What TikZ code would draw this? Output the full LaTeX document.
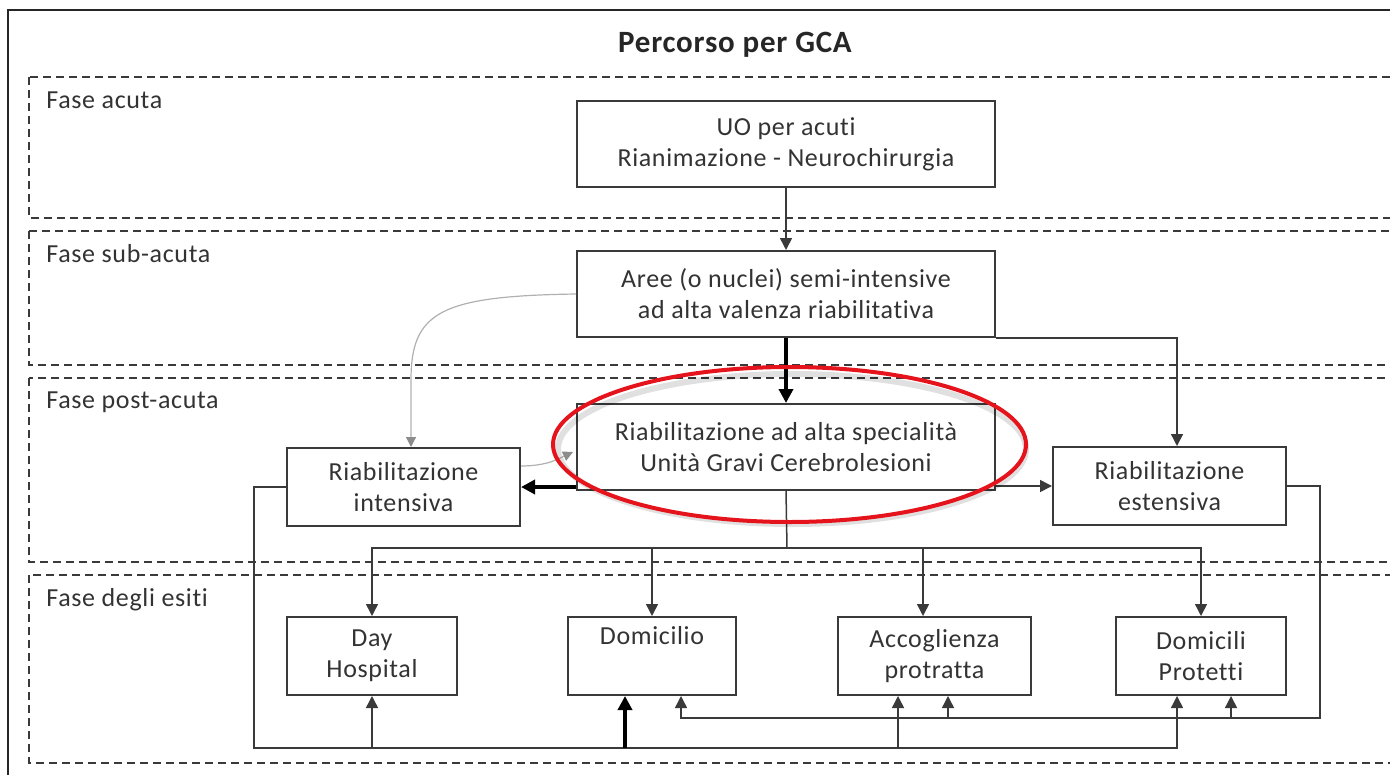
\documentclass[tikz,border=0pt]{standalone}
\usepackage{fontspec}
\setmainfont{Carlito}[Ligatures=NoCommon, LetterSpace=2.5]
\usetikzlibrary{arrows.meta, calc}
\definecolor{gcaInk}{HTML}{333333}
\definecolor{gcaLine}{HTML}{3A3A3A}
\definecolor{gcaSoft}{HTML}{B0B0B0}
\definecolor{gcaTip}{HTML}{8C8C8C}
\definecolor{gcaRing}{HTML}{E5131B}
\tikzset{
    % boxes of the pathway
    unitbox/.style={rectangle,draw=gcaLine,line width=1pt,fill=white,align=center,text=gcaInk,inner sep=0pt,font=\fontsize{13}{15.5}\selectfont},
    widebox/.style={unitbox,minimum width=209pt,minimum height=43pt},
    sidebox/.style={unitbox,minimum width=116.5pt,minimum height=39pt},
    exitbox/.style={unitbox,minimum width=85pt,minimum height=39pt},
    % phase bands
    phase/.style={draw=gcaLine,line width=0.7pt,dash pattern=on 4pt off 2.5pt},
    phaselabel/.style={anchor=west,text=gcaInk,inner sep=0pt,font=\fontsize{13}{15}\selectfont},
    % flow styles
    flow/.style={draw=gcaLine,line width=0.75pt,-{Triangle[length=6pt,width=6pt]}},
    mainflow/.style={draw=black,line width=2pt,-{Triangle[length=7pt,width=7pt]}},
    softflow/.style={draw=gcaSoft,line width=0.6pt,-{Triangle[length=5pt,width=5pt,color=gcaTip]}},
    ring/.style={draw=gcaRing,line width=2pt}
}

\begin{document}
\begin{tikzpicture}[x=0.5pt, y=-0.5pt]
    \useasboundingbox (0,0) rectangle (1390,775);
    \clip (0,0) rectangle (1390,775);

    % Outer frame and title
    \draw[draw=black!85, line width=1.25pt] (8,10) rectangle (1420,800);
    \node[font=\fontsize{15.5}{18}\selectfont\bfseries, text=black!85] (title) at (735,45) {Percorso per GCA};

    % Phase bands
    \draw[phase] (29,77) rectangle (1420,218);
    \draw[phase] (29,231) rectangle (1420,365);
    \draw[phase] (29,378) rectangle (1420,562);
    \draw[phase] (29,575) rectangle (1420,763);
    \node[phaselabel] (acuta) at (46,100) {Fase acuta};
    \node[phaselabel] (subacuta) at (46,254) {Fase sub-acuta};
    \node[phaselabel] (postacuta) at (46,402) {Fase post-acuta};
    \node[phaselabel] (esiti) at (46,600) {Fase degli esiti};

    % Main column
    \node[widebox] (uo) at (786,144) {UO per acuti\\Rianimazione - Neurochirurgia};
    \node[widebox] (aree) at (786,294) {Aree (o nuclei) semi-intensive\\ad alta valenza riabilitativa};
    \node[widebox] (alta) at (786,447) {Riabilitazione ad alta specialità\\Unità Gravi Cerebrolesioni};

    % Post-acute side boxes
    \node[sidebox] (intensiva) at (403.5,487) {Riabilitazione\\intensiva};
    \node[sidebox] (estensiva) at (1169.5,486) {Riabilitazione\\estensiva};

    % Outcome boxes
    \node[exitbox] (dayh) at (372,656) {Day\\Hospital};
    \node[exitbox, minimum width=84pt] (domic) at (652,656) {Domicilio\\\strut};
    \node[exitbox, minimum width=96.5pt] (accogl) at (934.5,656) {Accoglienza\\protratta};
    \node[exitbox] (protetti) at (1201,656) {Domicili\\Protetti};

    % Bus points and taps
    \coordinate (bus) at (787,548);
    \coordinate (lowbus) at (254,748);
    \coordinate (rightbus) at (1320,718);
    \coordinate (intTop) at ($(intensiva.north)+(7.5,0)$);
    \coordinate (estTop) at ($(estensiva.north)+(7.5,0)$);
    \coordinate (accTop) at ($(accogl.north)+(-11.5,0)$);
    \coordinate (domLow) at ($(domic.south)+(-27,0)$);
    \coordinate (domRight) at ($(domic.south)+(29,0)$);
    \coordinate (accLow) at ($(accogl.south)+(-36.5,0)$);
    \coordinate (accRight) at ($(accogl.south)+(13.5,0)$);
    \coordinate (protLow) at ($(protetti.south)+(-24,0)$);
    \coordinate (protRight) at ($(protetti.south)+(30,0)$);

    % Acute to post-acute flows
    \draw[flow] (uo) -- (aree);
    \draw[mainflow] (aree) -- (alta);
    \draw[flow] (aree.south east) -| (estTop);
    \draw[mainflow] (alta.west |- intensiva.east) -- (intensiva.east);
    \draw[flow] (alta.east |- estensiva.west) -- (estensiva.west);
    \draw[softflow] (aree.west) .. controls (440,296) and (411,312) .. (411,380) -- (intTop);
    \draw[softflow] ($(intensiva.east)+(0,-21)$) .. controls (548,466) and (560,458) .. ($(alta.west)+(-3,5)$);

    % Distribution to outcomes
    \draw[draw=gcaLine, line width=0.75pt] (alta.south) -- (bus);
    \draw[flow] (bus) -| (dayh.north);
    \draw[flow] (bus) -| (domic.north);
    \draw[flow] (bus) -| (accTop);
    \draw[flow] (bus) -| (protetti.north);

    % Returns from intensive and extensive rehab
    \draw[flow] (intensiva.west) -| (lowbus) -| (protLow);
    \draw[flow] (lowbus -| dayh.south) -- (dayh.south);
    \draw[mainflow] (lowbus -| domLow) -- (domLow);
    \draw[flow] (lowbus -| accLow) -- (accLow);
    \draw[flow] (estensiva.east) -| (rightbus) -| (domRight);
    \draw[flow] (rightbus -| accRight) -- (accRight);
    \draw[flow] (rightbus -| protRight) -- (protRight);

    % Highlight ring
    \draw[draw=black, opacity=0.12, line width=3pt] (792,449) ellipse [x radius=234, y radius=75];
    \draw[ring] (789.5,444.5) ellipse [x radius=236.5, y radius=77.5];
\end{tikzpicture}
\end{document}
